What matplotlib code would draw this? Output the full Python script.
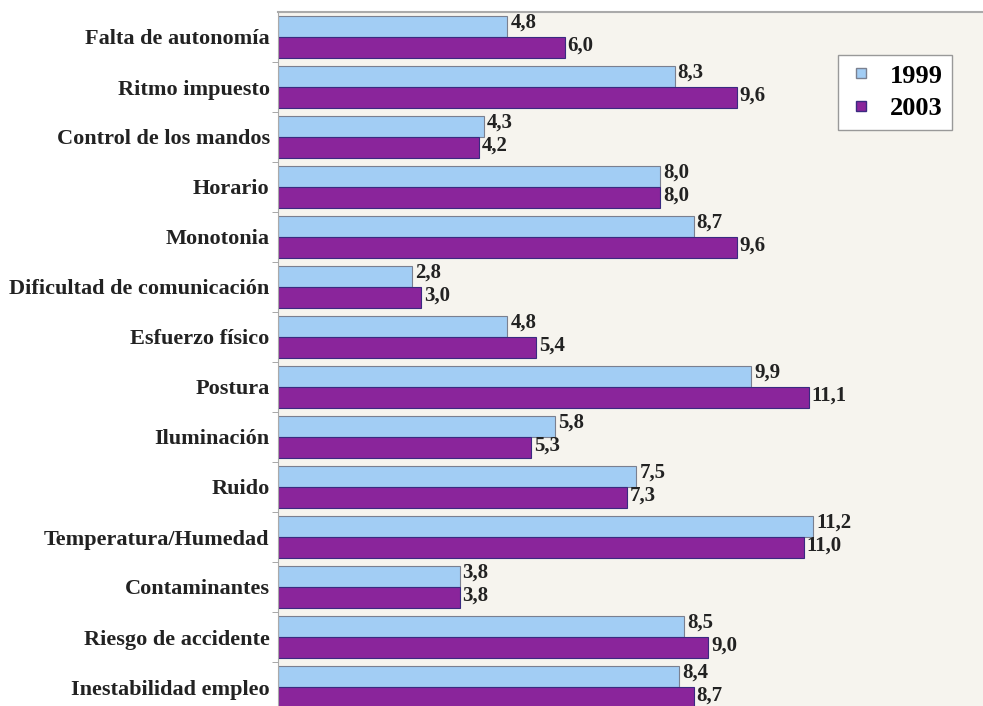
import numpy as np
import matplotlib.pyplot as plt
from matplotlib.lines import Line2D

categorias = ["Falta de autonomía", "Ritmo impuesto", "Control de los mandos", "Horario",
              "Monotonia", "Dificultad de comunicación", "Esfuerzo físico", "Postura",
              "Iluminación", "Ruido", "Temperatura/Humedad", "Contaminantes",
              "Riesgo de accidente", "Inestabilidad empleo"]
v1999 = [4.8, 8.3, 4.3, 8.0, 8.7, 2.8, 4.8, 9.9, 5.8, 7.5, 11.2, 3.8, 8.5, 8.4]
v2003 = [6.0, 9.6, 4.2, 8.0, 9.6, 3.0, 5.4, 11.1, 5.3, 7.3, 11.0, 3.8, 9.0, 8.7]
series = ["1999", "2003"]

azul = '#a2cdf4'
morado = '#8a259b'
fuente = 'Liberation Serif'

fig = plt.figure(figsize=(9.83, 7.06), dpi=100)
fig.patch.set_facecolor('white')
ax = fig.add_axes([278 / 983, 0, 705 / 983, 694 / 706])
ax.set_facecolor('#f6f4ee')

y = np.arange(len(categorias))
h = 0.42
ax.barh(y - h / 2, v1999, height=h, color=azul, edgecolor='#7a8090', linewidth=0.8)
ax.barh(y + h / 2, v2003, height=h, color=morado, edgecolor='#3a2a80', linewidth=0.8)

for i in range(len(categorias)):
    ax.text(v1999[i] + 0.06, y[i] - h / 2 - 0.08, f"{v1999[i]:.1f}".replace('.', ','),
            va='center', ha='left', fontsize=15, fontweight='bold', family=fuente, color='#222222')
    ax.text(v2003[i] + 0.06, y[i] + h / 2 - 0.04, f"{v2003[i]:.1f}".replace('.', ','),
            va='center', ha='left', fontsize=15, fontweight='bold', family=fuente, color='#222222')

ax.set_xlim(0, 14.75)
ax.set_ylim(13.38, -0.5)
ax.set_xticks([])
ax.set_yticks(y)
ax.set_yticklabels(categorias, fontsize=16, fontweight='bold', family=fuente, color='#222222')
ax.tick_params(axis='y', which='major', length=0, pad=6)
ax.set_yticks(y[:-1] + 0.5, minor=True)
ax.tick_params(axis='y', which='minor', length=4, color='#999999')

for s in ['right', 'bottom']:
    ax.spines[s].set_visible(False)
ax.spines['left'].set_color('#aaaaaa')
ax.spines['top'].set_color('#aaaaaa')
ax.spines['top'].set_linewidth(1.5)

handles = [Line2D([], [], marker='s', linestyle='', markersize=7, markerfacecolor=azul,
                  markeredgecolor='#7a8090'),
           Line2D([], [], marker='s', linestyle='', markersize=7, markerfacecolor=morado,
                  markeredgecolor='#3a2a80')]
leg = ax.legend(handles, series, loc='upper right', bbox_to_anchor=((952 - 278) / 705, 1 - 43 / 694),
                prop={'family': fuente, 'weight': 'bold', 'size': 19}, frameon=True, fancybox=False,
                handletextpad=0.6, borderpad=0.35, labelspacing=0.35, handlelength=1.0,
                borderaxespad=0)
leg.get_frame().set_edgecolor('#999999')
leg.get_frame().set_facecolor('white')
leg.get_frame().set_alpha(1)

fig.savefig('out.png', dpi=100)
